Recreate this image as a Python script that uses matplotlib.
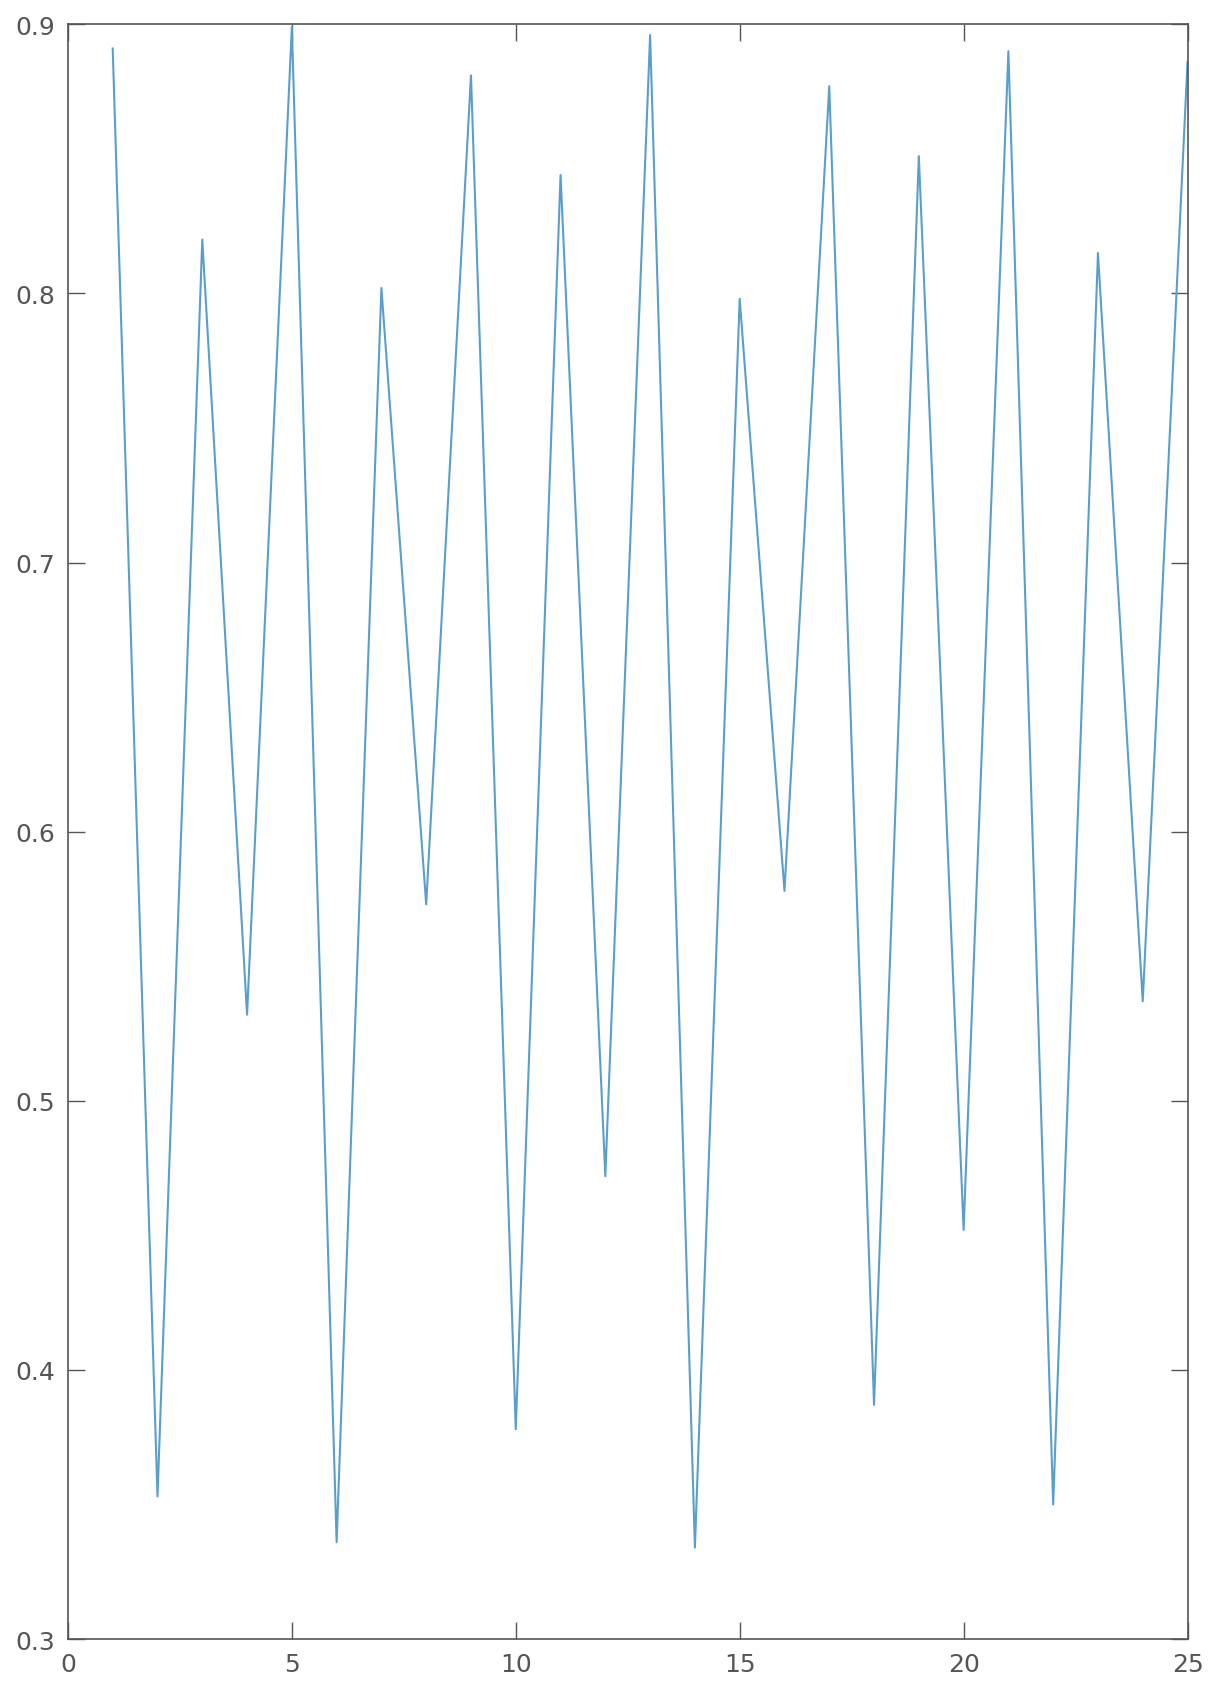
#!/usr/bin/env python3

import matplotlib
matplotlib.use("Agg")
import matplotlib.pyplot as plt

# Data: one value per integer step
x_vals = list(range(1, 26))
y_vals = [0.891, 0.353, 0.820, 0.532, 0.899, 0.336, 0.802, 0.573, 0.881, 0.378,
          0.844, 0.472, 0.896, 0.334, 0.798, 0.578, 0.877, 0.387, 0.851, 0.452,
          0.890, 0.350, 0.815, 0.537, 0.886]

x_ticks = [0, 5, 10, 15, 20, 25]
y_ticks = [0.3, 0.4, 0.5, 0.6, 0.7, 0.8, 0.9]


def main():
    fig = plt.figure(figsize=(12.13, 16.83), dpi=100)
    ax = fig.add_axes([0.056, 0.0255, 0.923, 0.9595])

    ax.plot(x_vals, y_vals, color="#5a9fcc", linewidth=1.5)

    ax.set_xlim(0, 25)
    ax.set_ylim(0.3, 0.9)
    ax.set_xticks(x_ticks)
    ax.set_yticks(y_ticks)
    ax.set_xticklabels([str(t) for t in x_ticks])
    ax.set_yticklabels([f"{t:.1f}" for t in y_ticks])

    # MATLAB-like box: inward ticks on all four sides
    ax.tick_params(direction="in", length=12, width=1.0, color="#555555",
                   labelcolor="#555555", labelsize=18,
                   top=True, right=True, pad=9)
    for spine in ax.spines.values():
        spine.set_color("#555555")
        spine.set_linewidth(1.2)

    fig.savefig("out.png", dpi=100)


if __name__ == "__main__":
    main()
